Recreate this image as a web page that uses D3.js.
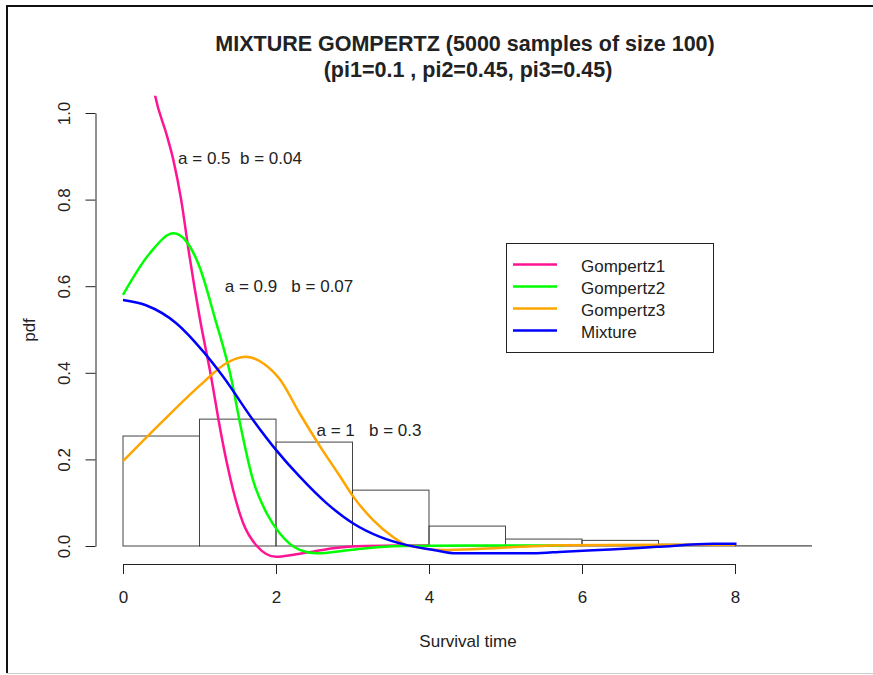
<!DOCTYPE html>
<html>
<head>
<meta charset="utf-8">
<script src="https://cdn.jsdelivr.net/npm/d3@7"></script>
<style>
  body { margin: 0; background: #fff; }
  text { font-family: "Liberation Sans", Arial, sans-serif; fill: #222; }
</style>
</head>
<body>
<div id="chart"></div>
<script>
// Mixture Gompertz: histogram of samples + fitted densities

var binEdges = [0, 1, 2, 3, 4, 5, 6, 7, 8, 9];
var binHeights = [0.254, 0.293, 0.240, 0.129, 0.046, 0.016, 0.013, 0.004, 0.0005];

var g1X = [0.30, 0.42, 0.57, 0.66, 0.76, 0.86, 1.0, 1.16, 1.25, 1.36, 1.57, 1.75, 2.0, 2.23, 2.48, 2.75, 3.18, 3.6, 4.0];
var g1Y = [1.17, 1.04, 0.950, 0.890, 0.800, 0.680, 0.53, 0.383, 0.290, 0.19, 0.053, 0.0, -0.025, -0.02, -0.013, -0.005, 0.0, 0.001, 0.001];

var g2X = [0, 0.35, 0.66, 0.83, 1.0, 1.2, 1.42, 1.53, 1.70, 1.88, 2.05, 2.31, 2.53, 2.97, 3.62, 4.5, 5.75];
var g2Y = [0.58, 0.676, 0.722, 0.703, 0.645, 0.527, 0.383, 0.283, 0.152, 0.075, 0.029, -0.009, -0.017, -0.009, 0.0, 0.001, 0.001];

var g3X = [0, 0.5, 1.05, 1.35, 1.6, 1.85, 2.05, 2.31, 2.58, 2.84, 3.01, 3.27, 3.53, 3.71, 4.19, 4.62, 5.19, 5.75, 7.0, 8.0];
var g3Y = [0.196, 0.285, 0.378, 0.422, 0.437, 0.420, 0.385, 0.306, 0.229, 0.16, 0.114, 0.06, 0.021, 0.002, -0.009, -0.007, -0.002, 0.002, 0.003, 0.003];

var mixX = [0, 0.3, 0.70, 1.05, 1.31, 1.70, 2.0, 2.31, 2.66, 3.01, 3.36, 3.71, 4.06, 4.36, 5.36, 5.76, 6.37, 6.98, 7.72, 8.02];
var mixY = [0.568, 0.556, 0.514, 0.449, 0.391, 0.291, 0.222, 0.16, 0.099, 0.052, 0.021, 0.002, -0.009, -0.017, -0.017, -0.013, -0.008, -0.002, 0.005, 0.005];

var seriesNames = ["Gompertz1", "Gompertz2", "Gompertz3", "Mixture"];
var seriesColors = ["#ff1493", "#00ff00", "#ffa500", "#0000ff"];
var xTicks = [0, 2, 4, 6, 8];
var yTicks = [0, 0.2, 0.4, 0.6, 0.8, 1.0];

var notes = [
  {x: 0.72, y: 0.895, label: "a = 0.5  b = 0.04"},
  {x: 1.33, y: 0.60, label: "a = 0.9   b = 0.07"},
  {x: 2.53, y: 0.267, label: "a = 1   b = 0.3"}
];

var width = 873,
    height = 675;

var svg = d3.select("#chart").append("svg")
  .attr("width", width)
  .attr("height", height);

// outer frame
svg.append("path")
  .attr("d", "M7,673 L7,6 L873,6")
  .attr("fill", "none")
  .attr("stroke", "#111")
  .attr("stroke-width", 2);
svg.append("line")
  .attr("x1", 7).attr("x2", 873).attr("y1", 673.5).attr("y2", 673.5)
  .attr("stroke", "#ccc");

var x = d3.scaleLinear().domain([0, 8]).range([123, 735]);
var y = d3.scaleLinear().domain([0, 1]).range([546, 113]);

// plot region (R extends by 4%)
svg.append("clipPath").attr("id", "plotclip")
  .append("rect")
  .attr("x", x(-0.36)).attr("y", y(1.04))
  .attr("width", x(9.36) - x(-0.36))
  .attr("height", y(-0.04) - y(1.04));

// histogram
var bins = binHeights.map(function(h, i) {
  return {x0: binEdges[i], x1: binEdges[i + 1], h: h};
});

svg.append("g").selectAll("rect")
  .data(bins)
  .enter().append("rect")
  .attr("x", function(d) { return x(d.x0); })
  .attr("y", function(d) { return y(d.h); })
  .attr("width", function(d) { return x(d.x1) - x(d.x0); })
  .attr("height", function(d) { return y(0) - y(d.h); })
  .attr("fill", "none")
  .attr("stroke", "#444")
  .attr("stroke-width", 1);

// curves
var line = d3.line()
  .x(function(d) { return x(d[0]); })
  .y(function(d) { return y(d[1]); })
  .curve(d3.curveMonotoneX);

var curves = [
  d3.zip(g1X, g1Y),
  d3.zip(g2X, g2Y),
  d3.zip(g3X, g3Y),
  d3.zip(mixX, mixY)
];

svg.append("g").attr("clip-path", "url(#plotclip)")
  .selectAll("path")
  .data(curves)
  .enter().append("path")
  .attr("d", line)
  .attr("fill", "none")
  .attr("stroke", function(d, i) { return seriesColors[i]; })
  .attr("stroke-width", 2.5);

// axes
var xAxis = svg.append("g")
  .attr("transform", "translate(0,564)")
  .call(d3.axisBottom(x).tickValues(xTicks).tickFormat(d3.format("d"))
    .tickSize(10).tickSizeOuter(0).tickPadding(17));
xAxis.selectAll("text").style("font-size", "17px").attr("fill", "#222");
xAxis.selectAll("path, line").attr("stroke", "#222");

var yAxis = svg.append("g")
  .attr("transform", "translate(95.5,0)")
  .call(d3.axisLeft(y).tickValues(yTicks).tickFormat(d3.format(".1f"))
    .tickSize(10).tickSizeOuter(0));
yAxis.selectAll("path, line").attr("stroke", "#222");
yAxis.selectAll("text")
  .style("font-size", "17px")
  .attr("fill", "#222")
  .attr("x", null).attr("dy", null)
  .attr("text-anchor", "middle")
  .attr("transform", "translate(-31,0) rotate(-90)")
  .attr("y", 0)
  .attr("dominant-baseline", "central");

// axis titles
svg.append("text")
  .attr("x", 468).attr("y", 647)
  .attr("text-anchor", "middle")
  .style("font-size", "17px")
  .text("Survival time");

svg.append("text")
  .attr("transform", "translate(35,330) rotate(-90)")
  .attr("text-anchor", "middle")
  .style("font-size", "17px")
  .text("pdf");

// title
var title = svg.append("text")
  .attr("text-anchor", "middle")
  .style("font-size", "21.5px")
  .style("font-weight", "bold");
title.append("tspan").attr("x", 465).attr("y", 51)
  .text("MIXTURE GOMPERTZ (5000 samples of size 100)");
title.append("tspan").attr("x", 468).attr("y", 77)
  .text("(pi1=0.1 , pi2=0.45, pi3=0.45)");

// parameter notes
svg.append("g").selectAll("text")
  .data(notes)
  .enter().append("text")
  .attr("x", function(d) { return x(d.x); })
  .attr("y", function(d) { return y(d.y); })
  .attr("dominant-baseline", "central")
  .style("font-size", "17px")
  .style("white-space", "pre")
  .text(function(d) { return d.label; });

// legend
var legend = svg.append("g");
legend.append("rect")
  .attr("x", 506.5).attr("y", 243.5)
  .attr("width", 207).attr("height", 109)
  .attr("fill", "#fff")
  .attr("stroke", "#222");

var rows = legend.selectAll("g.row")
  .data(seriesNames)
  .enter().append("g")
  .attr("class", "row")
  .attr("transform", function(d, i) { return "translate(0," + (264.5 + i * 22) + ")"; });

rows.append("line")
  .attr("x1", 513).attr("x2", 557)
  .attr("stroke", function(d, i) { return seriesColors[i]; })
  .attr("stroke-width", 2.5);

rows.append("text")
  .attr("x", 581).attr("y", 2)
  .attr("dominant-baseline", "central")
  .style("font-size", "17px")
  .text(function(d) { return d; });
</script>
</body>
</html>
